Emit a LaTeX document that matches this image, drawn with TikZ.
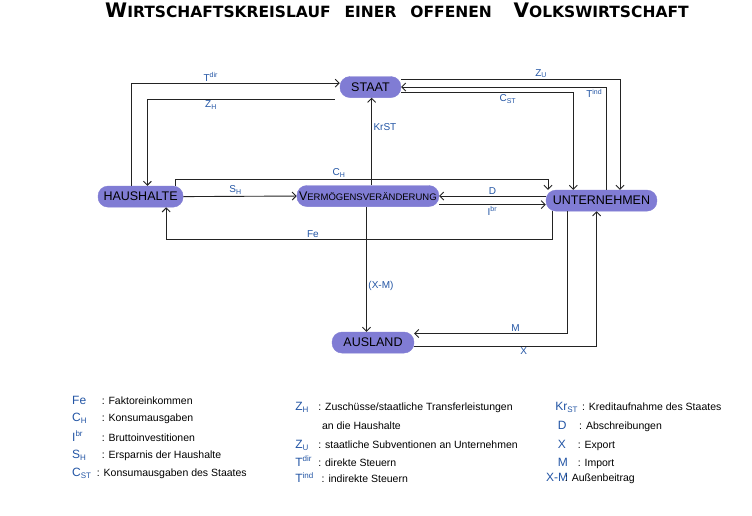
\documentclass[tikz,border=0pt]{standalone}
\usepackage{fontspec}
\setmainfont{Liberation Sans}
\newfontfamily\titlefont{DejaVu Sans}
\usepackage{tikz}
\usetikzlibrary{arrows.meta, positioning, calc}
\definecolor{pillviolet}{RGB}{128, 124, 212}
\definecolor{labelblue}{RGB}{35, 85, 165}
\definecolor{flowgrey}{RGB}{35, 35, 35}

\begin{document}
\begin{tikzpicture}[
    sector/.style={rectangle, rounded corners=10pt, fill=pillviolet, draw=pillviolet, minimum height=0.74cm, inner sep=1pt, font=\fontsize{12.5}{14}\selectfont},
    flow/.style={-{Straight Barb[length=4pt, width=8pt]}, line width=0.9pt, color=flowgrey},
    lbl/.style={text=labelblue, font=\fontsize{10}{12}\selectfont, inner sep=1.5pt},
    legsym/.style={anchor=base west, text=labelblue, font=\fontsize{12}{14}\selectfont, inner sep=0pt},
    legtxt/.style={anchor=base west, font=\fontsize{10.5}{12}\selectfont, inner sep=0pt}
]

\path[use as bounding box, fill=white] (0,0) rectangle (26.43,-18.135);

% Title
\node[anchor=base west, inner sep=0pt, font=\titlefont\bfseries] (title) at (3.69,-0.61)
    {{\fontsize{20}{22}\selectfont W}\fontsize{15.5}{18}\selectfont IRTSCHAFTSKREISLAUF\hspace{0.9em}EINER\hspace{0.9em}OFFENEN\hspace{1.4em}{\fontsize{20}{22}\selectfont V}OLKSWIRTSCHAFT};

% Sectors
\node[sector, minimum width=2.14cm] (staat) at (13.02,-3.06) {STAAT};
\node[sector, minimum width=2.99cm] (haus) at (4.94,-6.91) {HAUSHALTE};
\node[sector, minimum width=4.99cm] (verm) at (12.93,-6.89) {{\fontsize{12.5}{14}\selectfont V}{\fontsize{9.5}{11}\selectfont ERMÖGENSVERÄNDERUNG}};
\node[sector, minimum width=3.9cm] (unt) at (21.14,-7.05) {UNTERNEHMEN};
\node[sector, minimum width=2.88cm] (aus) at (13.11,-12.04) {AUSLAND};

% Haushalte <-> Staat
\draw[flow] ([xshift=-0.31cm]haus.north) |- node[lbl, pos=0.69, above] (ltdir) {T\textsuperscript{dir}} ([yshift=0.14cm]staat.west);
\coordinate (zhstart) at ([shift={(-0.18,-0.42)}]staat.west);
\draw[flow] (zhstart) -| node[lbl, pos=0.33, below] (lzh) {Z\textsubscript{H}} ([xshift=0.24cm]haus.north);

% Haushalte -> Unternehmen, Vermoegensveraenderung
\draw[flow] ([xshift=1.21cm]haus.north) -- ++(0,0.24) -| node[lbl, pos=0.22, above] (lch) {C\textsubscript{H}} ([xshift=-1.88cm]unt.north);
\draw[flow] (haus.east) -- node[lbl, pos=0.46, above] (lsh) {S\textsubscript{H}} (verm.west);

% Vermoegensveraenderung -> Staat
\draw[flow] ([xshift=0.13cm]verm.north) -- node[lbl, pos=0.67, right] (lkr) {KrST} ([xshift=0.13cm]verm.north |- staat.south);

% Unternehmen <-> Vermoegensveraenderung
\draw[flow] (unt.west |- verm.east) -- node[lbl, above] (ld) {D} (verm.east);
\draw[flow] ([yshift=-0.3cm]verm.east) -- node[lbl, below] (libr) {I\textsuperscript{br}} ([yshift=-0.3cm]verm.east -| unt.west);

% Faktoreinkommen
\draw[flow] ([xshift=-1.73cm]unt.south) -- ++(0,-0.98) -| node[lbl, pos=0.31, above] (lfe) {Fe} ([xshift=0.9cm]haus.south);

% Ausland
\draw[flow] ([xshift=-0.05cm]verm.south) -- node[lbl, pos=0.63, right] (lxm) {(X-M)} ([xshift=-0.05cm]verm.south |- aus.north);
\draw[flow] ([xshift=-1.19cm]unt.south) |- node[lbl, pos=0.67, above] (lm) {M} ([yshift=0.32cm]aus.east);
\draw[flow] ([yshift=-0.12cm]aus.east) -| node[lbl, pos=0.3, below] (lx) {X} ([xshift=-0.17cm]unt.south);

% Staat <-> Unternehmen
\draw[flow] ([yshift=0.25cm]staat.east) -| node[lbl, pos=0.32, above] (lzu) {Z\textsubscript{U}} ([xshift=0.65cm]unt.north);
\draw[flow] ([xshift=0.18cm]unt.north) |- node[lbl, pos=0.53, below] (ltind) {T\textsuperscript{ind}} (staat.east);
\draw[flow] ([yshift=-0.2cm]staat.east) -| node[lbl, pos=0.31, below] (lcst) {C\textsubscript{ST}} ([xshift=-0.99cm]unt.north);

% Legend, column 1
\node[legsym] (sfe) at (2.53,-14.20) {Fe};
\node[legtxt] (tfe) at (3.57,-14.20) {: Faktoreinkommen};
\node[legsym] (sch) at (2.53,-14.83) {C\textsubscript{H}};
\node[legtxt] (tch) at (3.57,-14.83) {: Konsumausgaben};
\node[legsym] (sibr) at (2.53,-15.50) {I\textsuperscript{br}};
\node[legtxt] (tibr) at (3.57,-15.50) {: Bruttoinvestitionen};
\node[legsym] (ssh) at (2.53,-16.13) {S\textsubscript{H}};
\node[legtxt] (tsh) at (3.57,-16.13) {: Ersparnis der Haushalte};
\node[legsym] (scst) at (2.53,-16.76) {C\textsubscript{ST}};
\node[legtxt] (tcst) at (3.40,-16.76) {: Konsumausgaben des Staates};

% Legend, column 2
\node[legsym] (szh) at (10.37,-14.43) {Z\textsubscript{H}};
\node[legtxt] (tzh) at (11.18,-14.43) {: Zuschüsse/staatliche Transferleistungen};
\node[legtxt] (tzh2) at (11.31,-15.10) {an die Haushalte};
\node[legsym] (szu) at (10.37,-15.76) {Z\textsubscript{U}};
\node[legtxt] (tzu) at (11.18,-15.76) {: staatliche Subventionen an Unternehmen};
\node[legsym] (stdir) at (10.37,-16.39) {T\textsuperscript{dir}};
\node[legtxt] (ttdir) at (11.18,-16.39) {: direkte Steuern};
\node[legsym] (stind) at (10.37,-16.97) {T\textsuperscript{ind}};
\node[legtxt] (ttind) at (11.30,-16.97) {: indirekte Steuern};

% Legend, column 3
\node[legsym] (skr) at (19.51,-14.43) {Kr\textsubscript{ST}};
\node[legtxt] (tkr) at (20.45,-14.43) {: Kreditaufnahme des Staates};
\node[legsym] (sd) at (19.60,-15.10) {D};
\node[legtxt] (td) at (20.35,-15.10) {: Abschreibungen};
\node[legsym] (sx) at (19.60,-15.76) {X};
\node[legtxt] (tx) at (20.30,-15.76) {: Export};
\node[legsym] (sm) at (19.60,-16.39) {M};
\node[legtxt] (tm) at (20.30,-16.39) {: Import};
\node[legsym] (sxm) at (19.19,-16.94) {X-M};
\node[legtxt] (txm) at (19.85,-16.94) {: Außenbeitrag};

\end{tikzpicture}
\end{document}
